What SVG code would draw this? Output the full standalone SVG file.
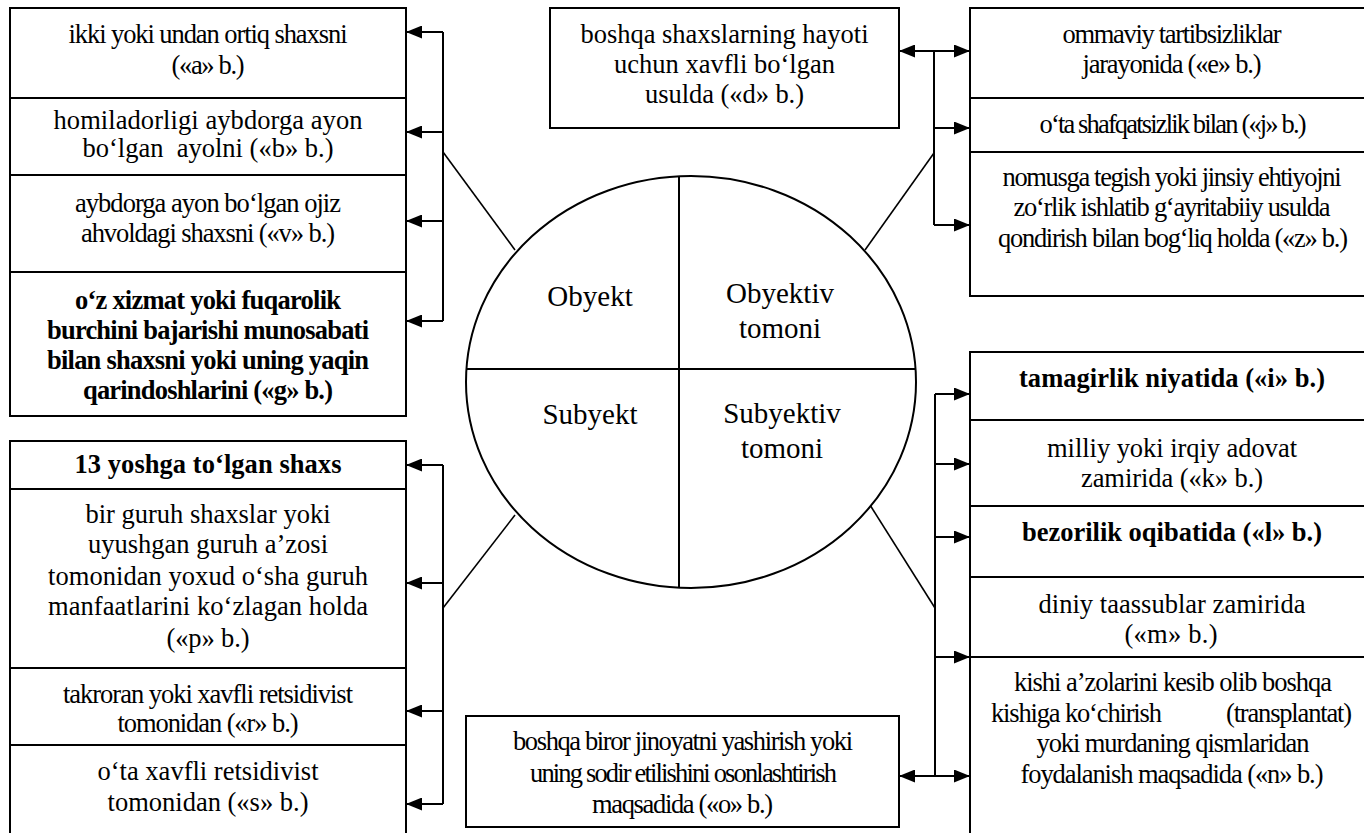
<svg xmlns="http://www.w3.org/2000/svg" width="1364" height="833" viewBox="0 0 1364 833">
<style>
.box{fill:#fff;stroke:#000;stroke-width:2}
.t{font-family:"Liberation Serif","Times New Roman",serif;font-size:26.5px;text-anchor:middle;fill:#000}
.b{font-weight:bold}
.c{font-family:"Liberation Serif","Times New Roman",serif;font-size:29px;text-anchor:middle;fill:#000}
.ln{stroke:#000;stroke-width:2;fill:none}
.ar{stroke:#000;stroke-width:2;fill:none;marker-end:url(#ah)}
.dar{stroke:#000;stroke-width:2;fill:none;marker-end:url(#ah);marker-start:url(#ahs)}
.dg{stroke:#000;stroke-width:1.6;fill:none}
</style>
<defs>
<marker id="ah" markerUnits="userSpaceOnUse" markerWidth="16" markerHeight="13" viewBox="0 0 16 13" refX="16" refY="6.5" orient="auto"><path d="M0,0 L16,6.5 L0,13 z" fill="#000"/></marker>
<marker id="ahs" markerUnits="userSpaceOnUse" markerWidth="16" markerHeight="13" viewBox="0 0 16 13" refX="16" refY="6.5" orient="auto-start-reverse"><path d="M0,0 L16,6.5 L0,13 z" fill="#000"/></marker>
</defs>
<rect width="1364" height="833" fill="#fff"/>

<g id="connectors">
<path class="ln" d="M443,32 V321"/>
<path class="ar" d="M443,32 H406"/>
<path class="ar" d="M443,132 H406"/>
<path class="ar" d="M443,221 H406"/>
<path class="ar" d="M443,321 H406"/>
<path class="dg" d="M443,152 L515,250"/>
<path class="ln" d="M443,465 V804"/>
<path class="ar" d="M443,465 H406"/>
<path class="ar" d="M443,583 H406"/>
<path class="ar" d="M443,711 H406"/>
<path class="ar" d="M443,804 H406"/>
<path class="dg" d="M443,608 L515,515"/>
<path class="ln" d="M934,51 V225"/>
<path class="dar" d="M899,51 H970"/>
<path class="ar" d="M934,128 H970"/>
<path class="ar" d="M934,225 H970"/>
<path class="dg" d="M934,153 L865,250"/>
<path class="ln" d="M935,394 V776"/>
<path class="ar" d="M935,394 H970"/>
<path class="ar" d="M935,464 H970"/>
<path class="ar" d="M935,537 H970"/>
<path class="ar" d="M935,657 H970"/>
<path class="dar" d="M899,776 H970"/>
<path class="dg" d="M935,608 L870,505"/>
</g>

<g id="center">
<ellipse cx="691" cy="382" rx="225" ry="206" fill="#fff" stroke="#000" stroke-width="2"/>
<path class="ln" d="M466.4,369 H915.6 M679,176.3 V587.7"/>
<text class="c" x="590" y="306">Obyekt</text>
<text class="c" x="780" y="303">Obyektiv</text>
<text class="c" x="780" y="338">tomoni</text>
<text class="c" x="590" y="424">Subyekt</text>
<text class="c" x="782" y="423">Subyektiv</text>
<text class="c" x="782" y="458">tomoni</text>
</g>

<g id="node-a"><rect class="box" x="10" y="8" width="396" height="90"/>
<text class="t" x="208" y="43" textLength="279">ikki yoki undan ortiq shaxsni</text>
<text class="t" x="208" y="74" textLength="73">(«a» b.)</text></g>
<g id="node-b"><rect class="box" x="10" y="98" width="396" height="77"/>
<text class="t" x="208" y="129" textLength="309">homiladorligi aybdorga ayon</text>
<text class="t" x="208" y="157" textLength="251">bo‘lgan&#160; ayolni («b» b.)</text></g>
<g id="node-v"><rect class="box" x="10" y="175" width="396" height="97"/>
<text class="t" x="208" y="212" textLength="266">aybdorga ayon bo‘lgan ojiz</text>
<text class="t" x="208" y="242" textLength="254">ahvoldagi shaxsni («v» b.)</text></g>
<g id="node-g"><rect class="box" x="10" y="272" width="396" height="144"/>
<text class="t b" x="208" y="309" textLength="266">o‘z xizmat yoki fuqarolik</text>
<text class="t b" x="208" y="339" textLength="322">burchini bajarishi munosabati</text>
<text class="t b" x="208" y="369" textLength="322">bilan shaxsni yoki uning yaqin</text>
<text class="t b" x="208" y="399" textLength="250">qarindoshlarini («g» b.)</text></g>

<g id="node-13"><rect class="box" x="10" y="441" width="396" height="48"/>
<text class="t b" x="208" y="473" textLength="267">13 yoshga to‘lgan shaxs</text></g>
<g id="node-p"><rect class="box" x="10" y="489" width="396" height="179"/>
<text class="t" x="208" y="523" textLength="245">bir guruh shaxslar yoki</text>
<text class="t" x="208" y="553" textLength="240">uyushgan guruh a’zosi</text>
<text class="t" x="208" y="585" textLength="320">tomonidan yoxud o‘sha guruh</text>
<text class="t" x="208" y="615" textLength="320">manfaatlarini ko‘zlagan holda</text>
<text class="t" x="208" y="647" textLength="83">(«p» b.)</text></g>
<g id="node-r"><rect class="box" x="10" y="668" width="396" height="77"/>
<text class="t" x="208" y="703" textLength="290">takroran yoki xavfli retsidivist</text>
<text class="t" x="208" y="732" textLength="181">tomonidan («r» b.)</text></g>
<g id="node-s"><rect class="box" x="10" y="745" width="396" height="100"/>
<text class="t" x="208" y="780" textLength="221">o‘ta xavfli retsidivist</text>
<text class="t" x="208" y="811" textLength="201">tomonidan («s» b.)</text></g>

<g id="node-d"><rect class="box" x="550" y="8" width="349" height="120"/>
<text class="t" x="724.5" y="43" textLength="288">boshqa shaxslarning hayoti</text>
<text class="t" x="724.5" y="73" textLength="221">uchun xavfli bo‘lgan</text>
<text class="t" x="724.5" y="103" textLength="159">usulda («d» b.)</text></g>

<g id="node-e"><rect class="box" x="970" y="8" width="405" height="90"/>
<text class="t" x="1172" y="43" textLength="219">ommaviy tartibsizliklar</text>
<text class="t" x="1172" y="73" textLength="179">jarayonida («e» b.)</text></g>
<g id="node-j"><rect class="box" x="970" y="98" width="405" height="54"/>
<text class="t" x="1173" y="133" textLength="267">o‘ta shafqatsizlik bilan («j» b.)</text></g>
<g id="node-z"><rect class="box" x="970" y="152" width="405" height="144"/>
<text class="t" x="1172" y="186" textLength="339">nomusga tegish yoki jinsiy ehtiyojni</text>
<text class="t" x="1172" y="216" textLength="317">zo‘rlik ishlatib g‘ayritabiiy usulda</text>
<text class="t" x="1173" y="247" textLength="350">qondirish bilan bog‘liq holda («z» b.)</text></g>

<g id="node-i"><rect class="box" x="970" y="352" width="405" height="68"/>
<text class="t b" x="1172" y="387" textLength="306">tamagirlik niyatida («i» b.)</text></g>
<g id="node-k"><rect class="box" x="970" y="420" width="405" height="86"/>
<text class="t" x="1172" y="457" textLength="250">milliy yoki irqiy adovat</text>
<text class="t" x="1172" y="487" textLength="182">zamirida («k» b.)</text></g>
<g id="node-l"><rect class="box" x="970" y="506" width="405" height="71"/>
<text class="t b" x="1172" y="541" textLength="300">bezorilik oqibatida («l» b.)</text></g>
<g id="node-m"><rect class="box" x="970" y="577" width="405" height="80"/>
<text class="t" x="1172" y="613" textLength="267">diniy taassublar zamirida</text>
<text class="t" x="1171" y="643" textLength="93">(«m» b.)</text></g>
<g id="node-n"><rect class="box" x="970" y="657" width="405" height="190"/>
<text class="t" x="1173" y="691" textLength="318">kishi a’zolarini kesib olib boshqa</text>
<text class="t" y="722"><tspan x="991" style="text-anchor:start" textLength="171">kishiga ko‘chirish</tspan><tspan x="1352" style="text-anchor:end" textLength="126">(transplantat)</tspan></text>
<text class="t" x="1173" y="752" textLength="273">yoki murdaning qismlaridan</text>
<text class="t" x="1172" y="783" textLength="303">foydalanish maqsadida («n» b.)</text></g>

<g id="node-o"><rect class="box" x="466" y="716" width="433" height="111"/>
<text class="t" x="683" y="750" textLength="340">boshqa biror jinoyatni yashirish yoki</text>
<text class="t" x="683.5" y="782" textLength="307">uning sodir etilishini osonlashtirish</text>
<text class="t" x="682.5" y="813" textLength="181">maqsadida («o» b.)</text></g>
</svg>
